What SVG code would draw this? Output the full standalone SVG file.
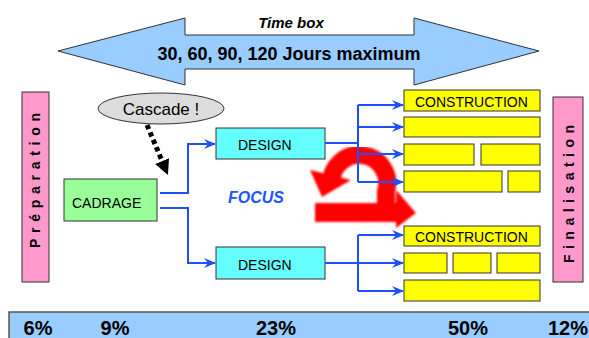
<svg xmlns="http://www.w3.org/2000/svg" width="589" height="338" viewBox="0 0 589 338">
  <style>
    .lbl { font-family: "Liberation Sans", Arial, sans-serif; fill: #000; }
    .box { stroke: #333; stroke-width: 1; }
    .cons { fill: #ffff00; stroke: #333; stroke-width: 1; }
    .link { fill: none; stroke: #1f4fff; stroke-width: 2; }
    .pct { font-family: "Liberation Sans", Arial, sans-serif; font-weight: bold; font-size: 20px; }
  </style>
  <defs>
    <marker id="blueHead" viewBox="0 0 12 10" refX="11" refY="5" markerWidth="13" markerHeight="10" markerUnits="userSpaceOnUse" orient="auto">
      <path d="M0,0 L12,5 L0,10 L4,5 z" fill="#1f4fff"/>
    </marker>
    <marker id="blackHead" viewBox="0 0 10 10" refX="5" refY="5" markerWidth="15" markerHeight="15" markerUnits="userSpaceOnUse" orient="auto">
      <path d="M0,0 L10,5 L0,10 z" fill="#000"/>
    </marker>
    <filter id="soft" x="-10%" y="-10%" width="120%" height="120%">
      <feGaussianBlur stdDeviation="0.9"/>
    </filter>
  </defs>

  <rect width="589" height="338" fill="#fff"/>

  <!-- time box double arrow -->
  <g id="timebox">
    <polygon points="58,51 185,18 185,35 414,35 414,18 539,51 414,85 414,69 185,69 185,85" fill="#99ccff" stroke="#333" stroke-width="1"/>
    <text class="lbl" x="291" y="28" text-anchor="middle" font-size="15" font-weight="bold" font-style="italic">Time box</text>
    <text class="lbl" x="289" y="60" text-anchor="middle" font-size="18" font-weight="bold">30, 60, 90, 120 Jours maximum</text>
  </g>

  <!-- side phases -->
  <g id="preparation">
    <rect class="box" x="22" y="92" width="27" height="190" fill="#ff99cc"/>
    <text class="lbl" transform="translate(40,248) rotate(-90)" font-size="14" font-weight="bold" textLength="135" lengthAdjust="spacing">Préparation</text>
  </g>
  <g id="finalisation">
    <rect class="box" x="553" y="97" width="30" height="185" fill="#ff99cc"/>
    <text class="lbl" transform="translate(574,263) rotate(-90)" font-size="14" font-weight="bold" textLength="138" lengthAdjust="spacing">Finalisation</text>
  </g>

  <!-- cascade bubble -->
  <g id="cascade">
    <ellipse cx="161" cy="108.5" rx="63" ry="15.5" fill="#dcdcdc" stroke="#333" stroke-width="1"/>
    <text class="lbl" x="161" y="115" text-anchor="middle" font-size="17">Cascade !</text>
  </g>

  <g id="cadrage">
    <rect class="box" x="64" y="179" width="93" height="42" fill="#99ff99"/>
    <text class="lbl" x="72" y="208" font-size="14">CADRAGE</text>
  </g>

  <g id="design1">
    <rect class="box" x="216" y="128" width="109" height="31" fill="#66ffff"/>
    <text class="lbl" x="238" y="150" font-size="14">DESIGN</text>
  </g>
  <g id="design2">
    <rect class="box" x="216" y="247" width="109" height="32" fill="#66ffff"/>
    <text class="lbl" x="238" y="270" font-size="14">DESIGN</text>
  </g>

  <g id="focus">
    <text x="256" y="203" text-anchor="middle" font-family="Liberation Sans, Arial, sans-serif" font-size="16" font-weight="bold" font-style="italic" fill="#2255ff">FOCUS</text>
  </g>

  <!-- construction blocks, upper stack -->
  <g id="construction1">
    <rect class="cons" x="404" y="90" width="136" height="21"/>
    <text class="lbl" x="415" y="107" font-size="14">CONSTRUCTION</text>
    <rect class="cons" x="404" y="117" width="136" height="20"/>
    <rect class="cons" x="404" y="144" width="70" height="21"/>
    <rect class="cons" x="481" y="144" width="59" height="21"/>
    <rect class="cons" x="404" y="171" width="98" height="21"/>
    <rect class="cons" x="508" y="171" width="32" height="21"/>
  </g>

  <!-- construction blocks, lower stack -->
  <g id="construction2">
    <rect class="cons" x="404" y="226" width="136" height="20"/>
    <text class="lbl" x="415" y="242" font-size="14">CONSTRUCTION</text>
    <rect class="cons" x="404" y="253" width="43" height="20"/>
    <rect class="cons" x="453" y="253" width="38" height="20"/>
    <rect class="cons" x="497" y="253" width="43" height="20"/>
    <rect class="cons" x="404" y="280" width="136" height="21"/>
  </g>

  <!-- iteration loop arrow -->
  <g id="loop" fill="#ff0000" filter="url(#soft)">
    <path d="M331.2,183 A28,28 0 1 1 386,191 L386,206" fill="none" stroke="#ff0000" stroke-width="18"/>
    <polygon points="310,170 351,180 322,197"/>
    <polygon points="315,203 396,203 396,190 416,213 396,228 396,222 315,222"/>
  </g>

  <!-- connectors -->
  <g id="connectors">
    <line x1="147" y1="125" x2="165" y2="168" stroke="#000" stroke-width="5" stroke-dasharray="4.5,3.5" marker-end="url(#blackHead)"/>
    <polyline class="link" points="160,193 188,193 188,144 215,144" marker-end="url(#blueHead)"/>
    <polyline class="link" points="160,208 188,208 188,263 215,263" marker-end="url(#blueHead)"/>
    <line class="link" x1="325" y1="143" x2="358" y2="143"/>
    <line class="link" x1="358" y1="105" x2="358" y2="182"/>
    <line class="link" x1="358" y1="105" x2="403" y2="105" marker-end="url(#blueHead)"/>
    <line class="link" x1="358" y1="127" x2="403" y2="127" marker-end="url(#blueHead)"/>
    <line class="link" x1="358" y1="154" x2="403" y2="154" marker-end="url(#blueHead)"/>
    <line class="link" x1="358" y1="182" x2="403" y2="182" marker-end="url(#blueHead)"/>
    <line class="link" x1="325" y1="263" x2="358" y2="263"/>
    <line class="link" x1="358" y1="235" x2="358" y2="291"/>
    <line class="link" x1="358" y1="235" x2="403" y2="235" marker-end="url(#blueHead)"/>
    <line class="link" x1="358" y1="263" x2="403" y2="263" marker-end="url(#blueHead)"/>
    <line class="link" x1="358" y1="291" x2="403" y2="291" marker-end="url(#blueHead)"/>
  </g>

  <!-- effort distribution bar -->
  <g id="distribution">
    <rect x="9" y="312" width="590" height="40" fill="#99ccff" stroke="#555" stroke-width="1.5"/>
    <text class="pct" x="38" y="335" text-anchor="middle">6%</text>
    <text class="pct" x="115" y="335" text-anchor="middle">9%</text>
    <text class="pct" x="276" y="335" text-anchor="middle">23%</text>
    <text class="pct" x="468" y="335" text-anchor="middle">50%</text>
    <text class="pct" x="568" y="335" text-anchor="middle">12%</text>
  </g>
</svg>
